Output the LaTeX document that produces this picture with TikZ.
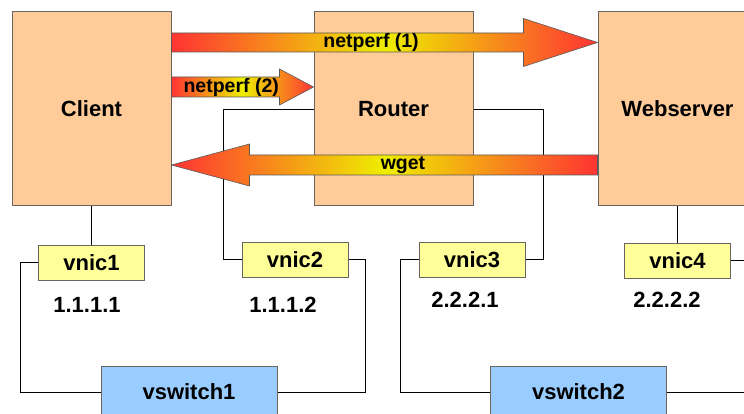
\documentclass[tikz,border=0pt]{standalone}
\usepackage{fontspec}
\setmainfont{Liberation Sans}
\usepackage{tikz}
\usetikzlibrary{
  positioning,
  calc
}
\definecolor{hostfill}{RGB}{255,204,153}
\definecolor{nicfill}{RGB}{255,255,153}
\definecolor{switchfill}{RGB}{153,204,255}
\definecolor{boxline}{RGB}{105,100,95}
\definecolor{arrred}{RGB}{255,51,51}
\definecolor{arryellow}{RGB}{238,238,0}
\tikzset{
  hostbox/.style={draw=boxline, fill=hostfill, line width=1pt,
    minimum width=159pt, minimum height=194pt, inner sep=0pt,
    font=\fontsize{22}{26}\selectfont\bfseries},
  nicbox/.style={draw=boxline, fill=nicfill, line width=1pt,
    minimum width=106pt, minimum height=35pt, inner sep=0pt,
    font=\fontsize{22}{26}\selectfont\bfseries},
  switchbox/.style={draw=boxline, fill=switchfill, line width=1pt,
    minimum width=176pt, minimum height=52pt, inner sep=0pt,
    font=\fontsize{22}{26}\selectfont\bfseries},
  iplabel/.style={inner sep=0pt,
    font=\fontsize{22}{26}\selectfont\bfseries},
  wire/.style={draw=black, line width=0.8pt},
  blockarr/.style={draw=black!65, line width=0.6pt,
    left color=arrred, right color=arrred, middle color=arryellow},
  arrlabel/.style={inner sep=0pt,
    font=\fontsize{19.5}{23}\selectfont\bfseries},
}

\begin{document}
\begin{tikzpicture}[x=1pt, y=1pt]
  \useasboundingbox (0,0) rectangle (744,-414);
  \clip (0,0) rectangle (744,-414);

  \node[hostbox] (client) at (91.5,-109) {Client};
  \node[hostbox, right=142pt of client] (router) {Router};
  \node[hostbox, right=124pt of router] (web) {Webserver};

  \node[nicbox, below=38pt of client] (vnic1) {vnic1};
  \node[nicbox] (vnic2) at (295,-259.5) {vnic2};
  \node[nicbox] (vnic3) at (472,-259.5) {vnic3};
  \node[nicbox, below=36pt of web] (vnic4) {vnic4};

  \node[iplabel] (ip1) at (87,-305) {1.1.1.1};
  \node[iplabel] (ip2) at (283,-305) {1.1.1.2};
  \node[iplabel] (ip3) at (465,-299.5) {2.2.2.1};
  \node[iplabel] (ip4) at (667,-299.5) {2.2.2.2};

  \node[switchbox] (vswitch1) at (189,-392) {vswitch1};
  \node[switchbox] (vswitch2) at (578.5,-392) {vswitch2};

  % wiring
  \draw[wire] (client.south) -- (client.south |- vnic1.north);
  \draw[wire] (vnic1.west) -- ++(-18,0) |- (vswitch1.west);
  \draw[wire] (vnic2.west) -- ++(-18,0) |- (router.west);
  \draw[wire] (vnic2.east) -- ++(17,0) |- (vswitch1.east);
  \draw[wire] (vnic3.east) -- ++(18,0) |- (router.east);
  \draw[wire] (vnic3.west) -- ++(-18,0) |- (vswitch2.west);
  \draw[wire] (web.south) -- (web.south |- vnic4.north);
  \draw[wire] (vnic4.east) -- ++(18,0) |- (vswitch2.east);

  % traffic arrows
  \shadedraw[blockarr]
    ([yshift=76pt]client.east)
    -- node[arrlabel, pos=0.567, yshift=-9.5pt] {netperf (1)}
       ([xshift=-74pt,yshift=76pt]web.west)
    -- ([xshift=-74pt,yshift=90.5pt]web.west)
    -- ([yshift=66.5pt]web.west)
    -- ([xshift=-74pt,yshift=42.5pt]web.west)
    -- ([xshift=-74pt,yshift=57pt]web.west)
    -- ([yshift=57pt]client.east) -- cycle;
  \shadedraw[blockarr]
    ([yshift=32pt]client.east)
    -- node[arrlabel, pos=0.553, yshift=-10pt] {netperf (2)}
       ([xshift=-34pt,yshift=32pt]router.west)
    -- ([xshift=-34pt,yshift=40pt]router.west)
    -- ([yshift=22pt]router.west)
    -- ([xshift=-34pt,yshift=4pt]router.west)
    -- ([xshift=-34pt,yshift=12pt]router.west)
    -- ([yshift=12pt]client.east) -- cycle;
  \shadedraw[blockarr]
    ([yshift=-46pt]web.west)
    -- node[arrlabel, pos=0.559, yshift=-10pt] {wget}
       ([xshift=78pt,yshift=-46pt]client.east)
    -- ([xshift=78pt,yshift=-35pt]client.east)
    -- ([yshift=-56pt]client.east)
    -- ([xshift=78pt,yshift=-77pt]client.east)
    -- ([xshift=78pt,yshift=-66pt]client.east)
    -- ([yshift=-66pt]web.west) -- cycle;
\end{tikzpicture}
\end{document}
